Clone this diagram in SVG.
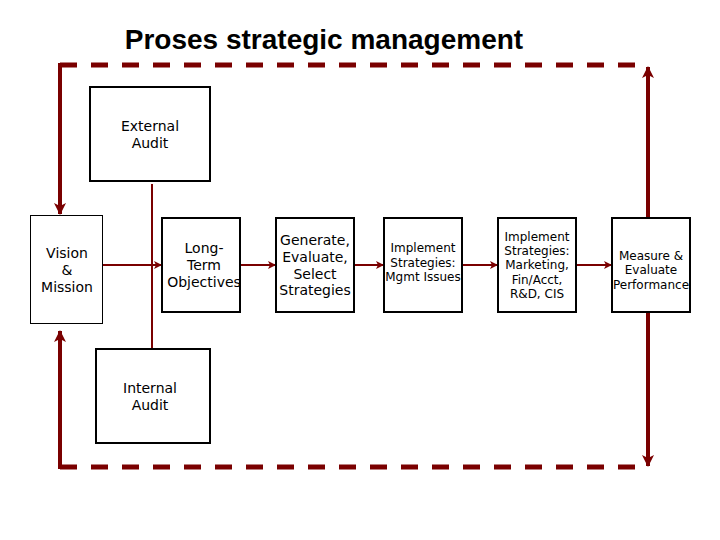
<svg xmlns="http://www.w3.org/2000/svg" width="720" height="540" viewBox="0 0 720 540">
<defs>
<style>
.box{fill:#fff;stroke:#000;stroke-width:2}
.t{font-family:"DejaVu Sans",Verdana,sans-serif;fill:#000;text-anchor:middle}
.t14{font-size:14px}
.t12{font-size:12px}
.thin{stroke:#7a0000;stroke-width:2;fill:none}
.thick{stroke:#7a0000;stroke-width:4;fill:none}
.dash{stroke:#7a0000;stroke-width:5;fill:none;stroke-dasharray:17 14}
</style>
<marker id="ah" markerWidth="8" markerHeight="8" refX="7" refY="4" orient="auto" markerUnits="userSpaceOnUse">
<path d="M0,0 L8,4 L0,8 L2,4 Z" fill="#7a0000"/>
</marker>
<marker id="ahb" markerWidth="12" markerHeight="12" refX="11" refY="6" orient="auto" markerUnits="userSpaceOnUse">
<path d="M0,0 L12,6 L0,12 L3,6 Z" fill="#7a0000"/>
</marker>
</defs>
<rect width="720" height="540" fill="#fff"/>
<text x="324" y="49" font-family="'Liberation Sans',Arial,sans-serif" font-size="28" font-weight="bold" text-anchor="middle">Proses strategic management</text>

<g id="connectors">
<path class="dash" d="M60,65 H648"/>
<path class="dash" d="M60,467 H648"/>
<path class="thick" d="M60,63 V214" marker-end="url(#ahb)"/>
<path class="thick" d="M648,217 V67" marker-end="url(#ahb)"/>
<path class="thick" d="M648,312 V466" marker-end="url(#ahb)"/>
<path class="thick" d="M60,469 V331" marker-end="url(#ahb)"/>
<path class="thin" d="M152,184 V349"/>
<path class="thin" d="M102,265 H161" marker-end="url(#ah)"/>
<path class="thin" d="M240,265 H275" marker-end="url(#ah)"/>
<path class="thin" d="M354,265 H383" marker-end="url(#ah)"/>
<path class="thin" d="M462,265 H497" marker-end="url(#ah)"/>
<path class="thin" d="M576,265 H611" marker-end="url(#ah)"/>
</g>

<g id="external-audit">
<rect class="box" x="90" y="87" width="120" height="94"/>
<text class="t t14" x="150" y="131">External</text>
<text class="t t14" x="150" y="148">Audit</text>
</g>
<g id="internal-audit">
<rect class="box" x="96" y="349" width="114" height="94"/>
<text class="t t14" x="150" y="393">Internal</text>
<text class="t t14" x="150" y="410">Audit</text>
</g>
<g id="vision-mission">
<rect x="30.5" y="215.5" width="72" height="108" fill="#fff" stroke="#000" stroke-width="1"/>
<text class="t t14" x="67" y="258">Vision</text>
<text class="t t14" x="67" y="275">&amp;</text>
<text class="t t14" x="67" y="292">Mission</text>
</g>
<g id="long-term-objectives">
<rect class="box" x="162" y="218" width="78" height="94"/>
<text class="t t14" x="204" y="253">Long-</text>
<text class="t t14" x="204" y="270">Term</text>
<text class="t t14" x="204" y="287">Objectives</text>
</g>
<g id="generate">
<rect class="box" x="276" y="218" width="78" height="94"/>
<text class="t t14" x="315" y="245">Generate,</text>
<text class="t t14" x="315" y="262">Evaluate,</text>
<text class="t t14" x="315" y="279">Select</text>
<text class="t t14" x="315" y="295">Strategies</text>
</g>
<g id="implement-mgmt">
<rect class="box" x="384" y="218" width="78" height="94"/>
<text class="t t12" x="423" y="252">Implement</text>
<text class="t t12" x="423" y="267">Strategies:</text>
<text class="t t12" x="423" y="281">Mgmt Issues</text>
</g>
<g id="implement-marketing">
<rect class="box" x="498" y="218" width="78" height="94"/>
<text class="t t12" x="537" y="241">Implement</text>
<text class="t t12" x="537" y="255">Strategies:</text>
<text class="t t12" x="537" y="269">Marketing,</text>
<text class="t t12" x="537" y="284">Fin/Acct,</text>
<text class="t t12" x="537" y="298">R&amp;D, CIS</text>
</g>
<g id="measure-evaluate">
<rect class="box" x="612" y="218" width="78" height="94"/>
<text class="t t12" x="651" y="260">Measure &amp;</text>
<text class="t t12" x="651" y="274">Evaluate</text>
<text class="t t12" x="651" y="289">Performance</text>
</g>
</svg>
